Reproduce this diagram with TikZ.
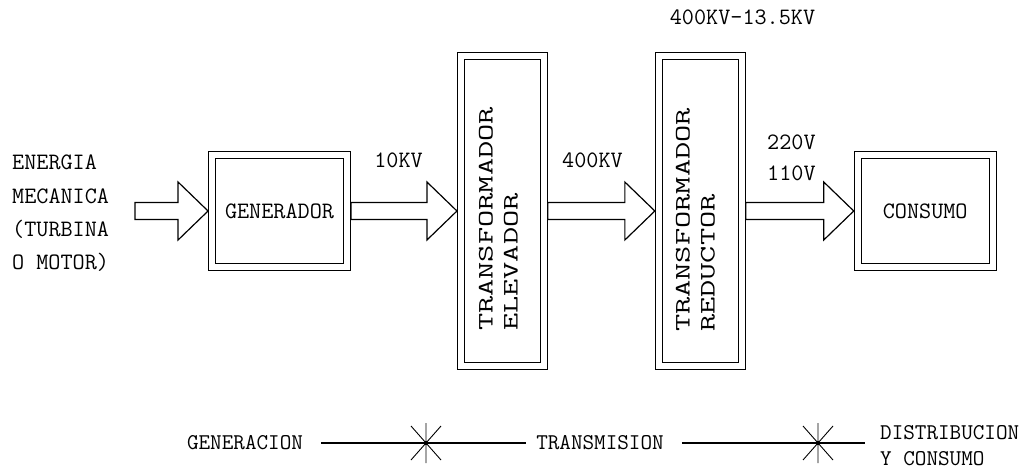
\documentclass[tikz,border=0pt]{standalone}
\usepackage{fontspec,graphicx}
\usetikzlibrary{calc,positioning}
\newcommand{\stretchx}[1]{\scalebox{1.52}[1]{#1}}
\tikzset{block/.style={draw,double,line width=1.1pt,double distance=5.7pt,
  outer sep=3.95pt,inner sep=0pt,minimum width=135pt,minimum height=112pt,
  font=\ttfamily\fontsize{23.5}{28}\selectfont},
  tallblock/.style={block,minimum width=83pt,minimum height=310pt},
  lbl/.style={inner sep=0pt,font=\ttfamily\fontsize{23.5}{33.3}\selectfont},
  lowlbl/.style={inner sep=0pt,font=\ttfamily\fontsize{22.5}{26}\selectfont},
  vlbl/.style={inner sep=0pt,rotate=90,align=left,
  font=\ttfamily\fontsize{22}{25}\selectfont},
  fat/.style={line width=1.2pt,line join=miter,
  to path={let \p1=(\tikztostart),\p2=(\tikztotarget) in
  (\x1,\y1+8.5pt) -- (\x2-30pt,\y1+8.5pt) -- (\x2-30pt,\y1+29pt) -- (\x2,\y1)
  -- (\x2-30pt,\y1-29pt) -- (\x2-30pt,\y1-8.5pt) -- (\x1,\y1-8.5pt) -- cycle}},
  splice/.pic={\draw[line width=0.9pt] (0,-20)--(0,20) (-15,-17)--(15,17)
  (-15,17)--(15,-17); \fill (0,0) circle (2.2pt);}}

\begin{document}
\begin{tikzpicture}[x=1pt,y=-1pt,node distance=107pt]
\useasboundingbox (0,0) rectangle (1021,469);
% blocks
\node[block] (gen) at (279.5,211) {GENERADOR};
\node[tallblock,right=106pt of gen] (trE) {};
\node[tallblock,right=of trE] (trR) {};
\node[block,right=108pt of trR] (cons) {CONSUMO};
\node[vlbl] (trEtxt) at ([shift={(-4,8)}]trE.center)
  {\stretchx{TRANSFORMADOR}\\\stretchx{ELEVADOR}};
\node[vlbl] (trRtxt) at ([shift={(-5,9)}]trR.center)
  {\stretchx{TRANSFORMADOR}\\\stretchx{REDUCTOR}};
% power flow
\coordinate (mech) at (135,211);
\draw[fat] (mech) to (gen.west);
\draw[fat] (gen.east) to (trE.west);
\draw[fat] (trE.east) to (trR.west);
\draw[fat] (trR.east) to (cons.west);
\node[lbl,anchor=north west,align=left] (mechtxt) at (12,155)
  {ENERGIA\\MECANICA\\(TURBINA\\O MOTOR)};
\node[lbl] (v10) at (398.5,160) {10KV};
\node[lbl] (v400) at (592.5,160) {400KV};
\node[lbl] (vrange) at (742.5,17) {400KV-13.5KV};
\node[lbl,anchor=north west,align=left,font=\ttfamily\fontsize{23.5}{31}\selectfont]
  (vout) at (767,134.8) {220V\\110V};
% stages
\node[lowlbl] (genl) at (245,443) {GENERACION};
\node[lowlbl] (trl) at (600,443) {TRANSMISION};
\node[lowlbl,anchor=north west,align=left] (dist) at (880,425) {DISTRIBUCION\\Y CONSUMO};
\draw[line width=1.3pt,shorten <=18pt,shorten >=10pt] (genl) -- (trl);
\draw[line width=1.3pt,shorten <=18pt,shorten >=15pt] (trl) -- (trl -| dist.west);
\pic at (426,443) {splice};
\pic at (818,443) {splice};
\end{tikzpicture}
\end{document}
